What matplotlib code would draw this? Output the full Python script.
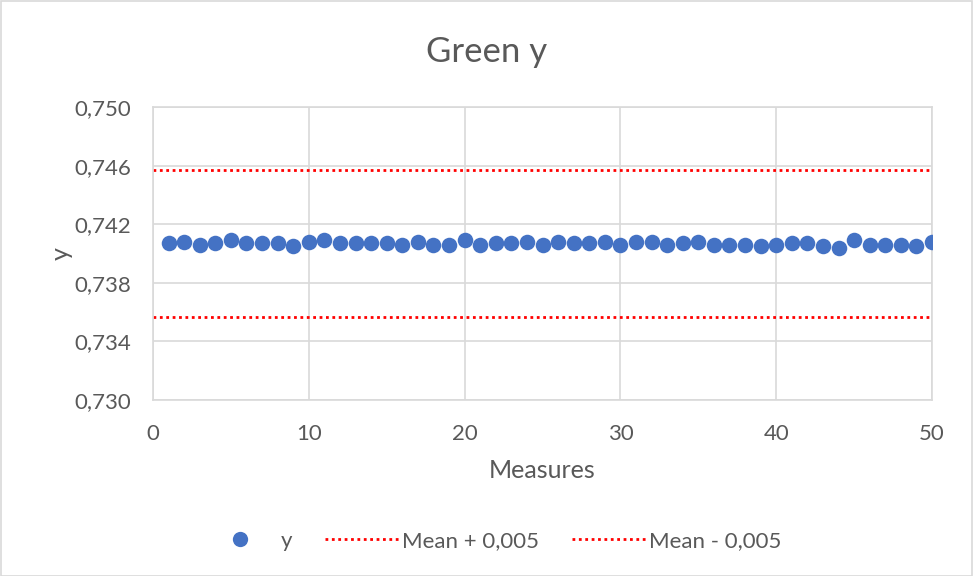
import matplotlib
matplotlib.use("Agg")
import matplotlib.pyplot as plt
import numpy as np
from matplotlib.ticker import FuncFormatter, FixedLocator
from matplotlib.lines import Line2D
from matplotlib.patches import Rectangle

plt.rcParams['font.family'] = ['Lato', 'DejaVu Sans']

# Measurement data
measures = list(range(1, 51))
y_values = [
    0.7407, 0.7408, 0.7406, 0.7407, 0.7409, 0.7407, 0.7407, 0.7407, 0.7405, 0.7408,
    0.7409, 0.7407, 0.7407, 0.7407, 0.7407, 0.7406, 0.7408, 0.7406, 0.7406, 0.7409,
    0.7406, 0.7407, 0.7407, 0.7408, 0.7406, 0.7408, 0.7407, 0.7407, 0.7408, 0.7406,
    0.7408, 0.7408, 0.7406, 0.7407, 0.7408, 0.7406, 0.7406, 0.7406, 0.7405, 0.7406,
    0.7407, 0.7407, 0.7405, 0.7404, 0.7409, 0.7406, 0.7406, 0.7406, 0.7405, 0.7408,
]
x_ticks = [0, 10, 20, 30, 40, 50]
y_ticks = [0.730, 0.734, 0.738, 0.742, 0.746, 0.750]
offset = 0.005
mean_y = float(np.mean(y_values))
upper = mean_y + offset
lower = mean_y - offset

W, H, DPI = 973, 576, 100
fig = plt.figure(figsize=(W / DPI, H / DPI), dpi=DPI)
fig.patch.set_facecolor('white')
fig.patches.append(Rectangle((0.5 / W, 0.5 / H), 1 - 1.5 / W, 1 - 1.5 / H,
                             transform=fig.transFigure, fill=False,
                             edgecolor='#D9D9D9', linewidth=1.2))

left, right, top, bottom = 153, 932, 107, 400
ax = fig.add_axes([left / W, 1 - bottom / H, (right - left) / W, (bottom - top) / H])

text_color = '#595959'
grid_color = '#D9D9D9'
dots = (0, (1, 1.3))

ax.scatter(measures, y_values, s=125, color='#4472C4', zorder=3, linewidths=0)
ax.plot([0, 50], [upper, upper], color='#FF0000', linestyle=dots, linewidth=2, zorder=2)
ax.plot([0, 50], [lower, lower], color='#FF0000', linestyle=dots, linewidth=2, zorder=2)

ax.set_xlim(x_ticks[0], x_ticks[-1])
ax.set_ylim(y_ticks[0], y_ticks[-1])
ax.xaxis.set_major_locator(FixedLocator(x_ticks))
ax.yaxis.set_major_locator(FixedLocator(y_ticks))
ax.yaxis.set_major_formatter(FuncFormatter(lambda v, p: f"{v:.3f}".replace('.', ',')))
ax.xaxis.set_major_formatter(FuncFormatter(lambda v, p: f"{v:.0f}"))

ax.grid(True, color=grid_color, linewidth=1.2, zorder=0)
ax.set_axisbelow(True)
for s in ax.spines.values():
    s.set_color(grid_color)
    s.set_linewidth(1.2)
ax.tick_params(length=0, labelsize=16, colors=text_color)
ax.tick_params(axis='y', pad=16)
ax.tick_params(axis='x', pad=17)

ax.set_xlabel('Measures', fontsize=18, color=text_color, labelpad=11)
ax.set_ylabel('y', fontsize=18, color=text_color, labelpad=1)
fig.text(0.5, 1 - 52 / H, 'Green y', ha='center',
         va='center', fontsize=25, color=text_color)

handles = [
    Line2D([], [], marker='o', linestyle='none', markersize=11,
           markerfacecolor='#4472C4', markeredgewidth=0),
    Line2D([], [], color='#FF0000', linestyle=dots, linewidth=2),
    Line2D([], [], color='#FF0000', linestyle=dots, linewidth=2),
]
fig.legend(handles, ['y', 'Mean + 0,005', 'Mean - 0,005'], loc='center',
           bbox_to_anchor=(0.5 + 6 / W, 1 - 541 / H), ncol=3, frameon=False,
           fontsize=16, labelcolor=text_color, handlelength=3.3,
           columnspacing=1.5, handletextpad=0.15)

fig.savefig('out.png', dpi=DPI)
